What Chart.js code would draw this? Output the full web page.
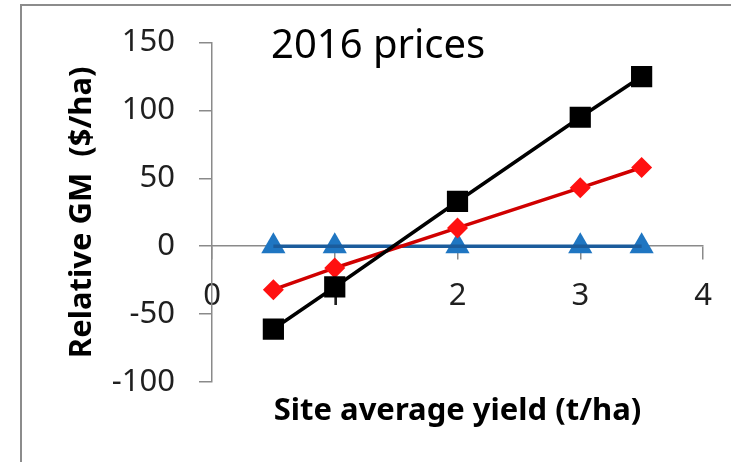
<!DOCTYPE html>
<html>
<head>
<meta charset="utf-8">
<script src="https://cdn.jsdelivr.net/npm/chart.js@4/dist/chart.umd.min.js"></script>
<style>
    html, body { margin: 0; padding: 0; background: #ffffff; }
    canvas { display: block; }
</style>
</head>
<body>
<canvas id="gm-chart" width="731" height="462"></canvas>
<script>
// values
let yieldvals = [0.5, 1, 2, 3, 3.5];           // site average yield (t/ha)
let gmblack = [-61, -30, 33, 95, 125];        // squares
let gmred = [-32, -16, 13.5, 43, 58];         // diamonds
let gmblue = [0, 0, 0, 0, 0];                 // triangles (baseline)
let yticks = {min: -100, max: 150, step: 50};
let xticks = {min: 0, max: 4, step: 1};

let charttitle = '2016 prices';
let xaxistitle = 'Site average yield (t/ha)';
let yaxistitle = 'Relative GM  ($/ha)';

let fontfamily = "'Noto Sans', 'DejaVu Sans', sans-serif";
let axiscolor = '#8a8a8a';

function topoints( yvals ) {
    return yieldvals.map(function(x, i) { return {x: x, y: yvals[i]}; });
}

// outer frame of the excel chart, only top and left edges show
let frameplugin = {
    id: 'frame',
    beforeDraw: function(chart) {
        let ctx = chart.ctx;
        ctx.save();
        ctx.fillStyle = '#ffffff';
        ctx.fillRect(0, 0, chart.width, chart.height);
        ctx.strokeStyle = '#8c8c8c';
        ctx.lineWidth = 2;
        ctx.strokeRect(21, 5, chart.width + 10, chart.height + 10);
        ctx.restore();
    }
};

// title inside the plot and the two axis titles
let textplugin = {
    id: 'texts',
    afterDraw: function(chart) {
        let ctx = chart.ctx;
        let area = chart.chartArea;
        ctx.save();
        ctx.fillStyle = '#000000';
        ctx.textBaseline = 'alphabetic';

        ctx.font = '40px ' + fontfamily;
        ctx.textAlign = 'left';
        ctx.fillText(charttitle, 271, 58);

        ctx.font = 'bold 31px ' + fontfamily;
        ctx.textAlign = 'center';
        ctx.fillText(xaxistitle, (area.left + area.right) / 2, 420);

        ctx.translate(91, (area.top + area.bottom) / 2);
        ctx.rotate(-Math.PI / 2);
        ctx.fillText(yaxistitle, 0, 0);
        ctx.restore();
    }
};

let chart = new Chart(document.getElementById('gm-chart'), {
    type: 'line',
    data: {
        datasets: [
            {
                label: 'black',
                data: topoints(gmblack),
                order: 0,
                borderColor: '#000000',
                backgroundColor: '#000000',
                borderWidth: 3.5,
                pointStyle: 'rect',
                pointRadius: 15,
                pointBorderWidth: 0,
            },
            {
                label: 'red',
                data: topoints(gmred),
                order: 1,
                borderColor: '#d00000',
                backgroundColor: '#ff1010',
                borderWidth: 3.5,
                pointStyle: 'rectRot',
                pointRadius: 10.5,
                pointBorderWidth: 0,
            },
            {
                label: 'blue line',
                data: topoints(gmblue),
                order: 2,
                borderColor: '#1b5c9c',
                borderWidth: 3.5,
                pointRadius: 0,
            },
            {
                label: 'blue markers',
                data: topoints(gmblue),
                order: 3,
                showLine: false,
                backgroundColor: '#1f76c2',
                borderColor: '#1f76c2',
                pointStyle: 'triangle',
                pointRadius: 14,
                pointBorderWidth: 0,
            },
        ]
    },
    options: {
        responsive: false,
        animation: false,
        devicePixelRatio: 1,
        layout: {
            padding: {left: 0, top: 42, right: 28, bottom: 80}
        },
        plugins: {
            legend: {display: false},
            tooltip: {enabled: false},
        },
        scales: {
            x: {
                type: 'linear',
                position: {y: 0},
                min: xticks.min,
                max: xticks.max,
                ticks: {
                    stepSize: xticks.step,
                    padding: 18,
                    color: '#1f1f1f',
                    font: {family: fontfamily, size: 31},
                },
                grid: {
                    drawOnChartArea: false,
                    tickLength: 13,
                    color: axiscolor,
                    lineWidth: 1.5,
                },
                border: {color: axiscolor, width: 1.5},
            },
            y: {
                type: 'linear',
                min: yticks.min,
                max: yticks.max,
                ticks: {
                    stepSize: yticks.step,
                    padding: 24,
                    color: '#1f1f1f',
                    font: {family: fontfamily, size: 31},
                },
                grid: {
                    drawOnChartArea: false,
                    tickLength: 13,
                    color: axiscolor,
                    lineWidth: 1.5,
                },
                border: {color: axiscolor, width: 1.5},
                afterFit: function(scale) {
                    scale.width = 212;
                },
            },
        },
    },
    plugins: [frameplugin, textplugin],
});
</script>
</body>
</html>
